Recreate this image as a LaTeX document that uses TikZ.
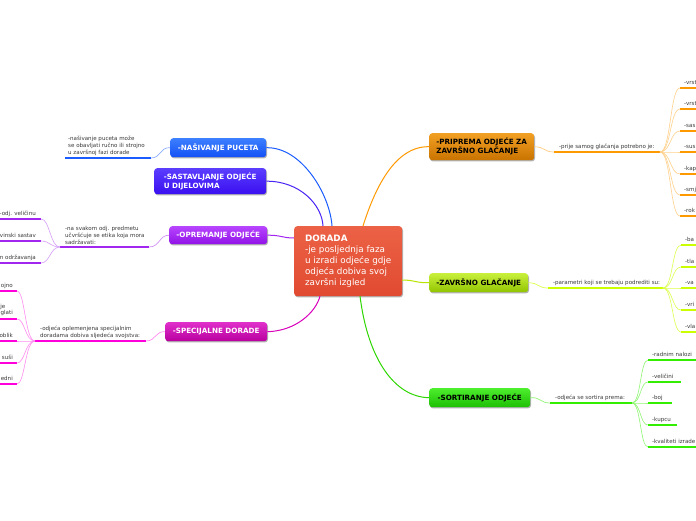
\documentclass[tikz,border=0pt]{standalone}
\usepackage{fontspec}
\setmainfont{DejaVu Sans}
\usetikzlibrary{shadows}
\definecolor{dorT}{HTML}{EC6246}\definecolor{dorB}{HTML}{E04A30}
\definecolor{nasT}{HTML}{3D80FF}\definecolor{nasB}{HTML}{1450F5}\definecolor{nasL}{HTML}{1A5CFF}
\definecolor{sasT}{HTML}{5B3DFF}\definecolor{sasB}{HTML}{3A0FF0}\definecolor{sasL}{HTML}{4A24F5}
\definecolor{oprT}{HTML}{B845FF}\definecolor{oprB}{HTML}{9012E6}\definecolor{oprL}{HTML}{A326F0}
\definecolor{speT}{HTML}{E02FCB}\definecolor{speB}{HTML}{B8009F}\definecolor{speL}{HTML}{FF00DD}
\definecolor{priT}{HTML}{F2A024}\definecolor{priB}{HTML}{C97300}\definecolor{priL}{HTML}{FF9900}
\definecolor{zavT}{HTML}{C8F03C}\definecolor{zavB}{HTML}{92C400}\definecolor{zavL}{HTML}{CCFF00}
\definecolor{sorT}{HTML}{4DEE2D}\definecolor{sorB}{HTML}{1DBF04}\definecolor{sorL}{HTML}{33EE00}
\definecolor{txt}{HTML}{3A3A3A}
\begin{document}
\begin{tikzpicture}[x=1pt,y=-1pt,
  mainbox/.style={anchor=north west, rounded corners=3pt, inner sep=0pt, align=left,
    font=\fontsize{7.2}{8.8}\selectfont\bfseries,
    drop shadow={shadow xshift=0.8pt, shadow yshift=-1.2pt, opacity=0.3, fill=black}},
  subtxt/.style={anchor=south west, inner sep=0pt, align=left, font=\fontsize{5.55}{7}\selectfont, text=txt},
  kidtxt/.style={anchor=base west, inner sep=0pt, font=\fontsize{5.55}{7}\selectfont, text=txt},
  kidtxtR/.style={anchor=base east, inner sep=0pt, font=\fontsize{5.55}{7}\selectfont, text=txt},
  ul/.style={line width=2.6pt},
  link/.style={line width=1pt},
  sublink/.style={line width=0.7pt},
  kidlink/.style={line width=0.6pt}]
\clip (0,0) rectangle (696,520);
\fill[white] (0,0) rectangle (696,520);

% central node
\node[anchor=north west, minimum width=108pt, minimum height=70pt, rounded corners=3pt,
  top color=dorT, bottom color=dorB, align=left, inner sep=0pt, text=white,
  font=\fontsize{8.8}{11}\selectfont,
  drop shadow={shadow xshift=0.8pt, shadow yshift=-1.2pt, opacity=0.3, fill=black}] (dor) at (294,226)
  {\textbf{DORADA}\\-je posljednja faza\\u izradi odjeće gdje\\odjeća dobiva svoj\\završni izgled};

% main topics
\node[mainbox, minimum width=96pt, minimum height=19pt, top color=nasT, bottom color=nasB, text=white] (nas) at (170,138) {-NAŠIVANJE PUCETA};
\node[mainbox, minimum width=112pt, minimum height=26pt, top color=sasT, bottom color=sasB, text=white] (sas) at (154,168) {-SASTAVLJANJE ODJEĆE\\U DIJELOVIMA};
\node[mainbox, minimum width=98pt, minimum height=18pt, top color=oprT, bottom color=oprB, text=white] (opr) at (169,226) {-OPREMANJE ODJEĆE};
\node[mainbox, minimum width=102pt, minimum height=19pt, top color=speT, bottom color=speB, text=white] (spe) at (165,322) {-SPECIJALNE DORADE};
\node[mainbox, minimum width=105pt, minimum height=27pt, top color=priT, bottom color=priB, text=black] (pri) at (429,133) {-PRIPREMA ODJEĆE ZA\\ZAVRŠNO GLAČANJE};
\node[mainbox, minimum width=99pt, minimum height=19pt, top color=zavT, bottom color=zavB, text=black] (zav) at (429,273) {-ZAVRŠNO GLAČANJE};
\node[mainbox, minimum width=101pt, minimum height=19pt, top color=sorT, bottom color=sorB, text=black] (sor) at (429,388) {-SORTIRANJE ODJEĆE};

% attachment points on the central node
\coordinate (dN1) at (332,226);
\coordinate (dN2) at (323,226);
\coordinate (dW)  at (294,238);
\coordinate (dS1) at (320,296);
\coordinate (dN3) at (363,226);
\coordinate (dE)  at (402,280);
\coordinate (dS2) at (360,296);

\draw[link, nasL] (nas.east) .. controls (302,147) and (330,195) .. (dN1);
\draw[link, sasL] (sas.east) .. controls (300,181) and (322,205) .. (dN2);
\draw[link, oprL] (opr.east) .. controls (281,235) and (282,238) .. (dW);
\draw[link, speL!85!black] (spe.east) .. controls (296,331) and (316,312) .. (dS1);
\draw[link, priL] (dN3) .. controls (375,188) and (395,146) .. (pri.west);
\draw[link, zavL!90!black] (dE) .. controls (415,280) and (415,283) .. (zav.west);
\draw[link, sorL!90!black] (dS2) .. controls (368,360) and (395,397) .. (sor.west);

% ---- NAŠIVANJE subtopic
\coordinate (nasA) at (65,158); \coordinate (nasZ) at (151,158);
\draw[ul, nasL] (nasA) -- (nasZ);
\node[subtxt] (nasS) at (68,155.5) {-našivanje puceta može\\se obavljati ručno ili strojno\\u završnoj fazi dorade};
\draw[sublink, nasL!50] (nas.west) .. controls (160,147) and (161,158) .. (nasZ);

% ---- OPREMANJE subtopic
\coordinate (oprA) at (60,247); \coordinate (oprZ) at (149,247);
\draw[ul, oprL] (oprA) -- (oprZ);
\node[subtxt] (oprS) at (65,244.5) {-na svakom odj. predmetu\\učvršćuje se etika koja mora\\sadržavati:};
\draw[sublink, oprL!50] (opr.west) .. controls (159,235) and (160,247) .. (oprZ);
\foreach \y/\t [count=\i] in {219/-odj. veličinu, 241/vinski sastav, 263/n održavanja}{
  \coordinate (okA\i) at (-5,\y); \coordinate (okZ\i) at (41,\y);
  \draw[ul, oprL] (okA\i) -- (okZ\i);
  \node[kidtxtR] (okT\i) at (36,\y-4) {\t};
  \draw[kidlink, oprL!45] (oprA) .. controls (50,247) and (50,\y) .. (okZ\i);
}

% ---- SPECIJALNE subtopic
\coordinate (speA) at (35,341); \coordinate (speZ) at (146,341);
\draw[ul, speL] (speA) -- (speZ);
\node[subtxt] (speS) at (40,338.5) {-odjeća oplemenjena specijalnim\\doradama dobiva sljedeća svojstva:};
\draw[sublink, speL!45] (spe.west) .. controls (155,331) and (156,341) .. (speZ);
\foreach \y [count=\i] in {291,319,341,363,384}{
  \coordinate (skA\i) at (-5,\y); \coordinate (skZ\i) at (17,\y);
  \draw[ul, speL] (skA\i) -- (skZ\i);
  \draw[kidlink, speL!45] (speA) .. controls (25,341) and (25,\y) .. (skZ\i);
}
\node[kidtxtR] (skT1) at (13,287) {ojno};
\node[anchor=south east, inner sep=0pt, align=right, font=\fontsize{5.55}{6.5}\selectfont, text=txt] (skT2) at (13,316) {je\hspace*{7.5pt}\\glati};
\node[kidtxtR] (skT3) at (13,337) {oblik};
\node[kidtxtR] (skT4) at (13,359) {suši};
\node[kidtxtR] (skT5) at (13,380) {edni};

% ---- PRIPREMA subtopic
\coordinate (priA) at (554,152); \coordinate (priZ) at (660,152);
\draw[ul, priL] (priA) -- (priZ);
\node[subtxt] (priS) at (559,149.5) {-prije samog glačanja potrebno je:};
\draw[sublink, priL!50] (pri.east) .. controls (545,147) and (544,152) .. (priA);
\foreach \y/\t [count=\i] in {88/-vrst,109/-vrst,131/-sas,152/-sus,174/-kap,195/-smj,216/-rok}{
  \coordinate (pkA\i) at (680,\y); \coordinate (pkZ\i) at (700,\y);
  \draw[ul, priL] (pkA\i) -- (pkZ\i);
  \node[kidtxt] (pkT\i) at (684,\y-4) {\t};
  \draw[kidlink, priL!45] (priZ) .. controls (671,152) and (670,\y) .. (pkA\i);
}

% ---- ZAVRŠNO subtopic
\coordinate (zavA) at (548,288); \coordinate (zavZ) at (663,288);
\draw[ul, zavL] (zavA) -- (zavZ);
\node[subtxt] (zavS) at (553,285.5) {-parametri koji se trebaju podrediti su:};
\draw[sublink, zavL!70] (zav.east) .. controls (539,283) and (538,288) .. (zavA);
\foreach \y/\t [count=\i] in {245/-ba,267/-tla,288/-va,310/-vri,332/-vla}{
  \coordinate (zkA\i) at (681,\y); \coordinate (zkZ\i) at (700,\y);
  \draw[ul, zavL] (zkA\i) -- (zkZ\i);
  \node[kidtxt] (zkT\i) at (685,\y-4) {\t};
  \draw[kidlink, zavL!70] (zavZ) .. controls (673,288) and (672,\y) .. (zkA\i);
}

% ---- SORTIRANJE subtopic
\coordinate (sorA) at (550,403); \coordinate (sorZ) at (632,403);
\draw[ul, sorL] (sorA) -- (sorZ);
\node[subtxt] (sorS) at (555,400.5) {-odjeća se sortira prema:};
\draw[sublink, sorL!55] (sor.east) .. controls (541,397) and (540,403) .. (sorA);
\foreach \y/\e/\t [count=\i] in {360/700/-radnim nalozi,382/681/-veličini,403/672/-boj,425/677/-kupcu,447/700/-kvaliteti izrade}{
  \coordinate (rkA\i) at (648,\y); \coordinate (rkZ\i) at (\e,\y);
  \draw[ul, sorL] (rkA\i) -- (rkZ\i);
  \node[kidtxt] (rkT\i) at (652,\y-4) {\t};
  \draw[kidlink, sorL!55] (sorZ) .. controls (641,403) and (640,\y) .. (rkA\i);
}
\end{tikzpicture}
\end{document}
